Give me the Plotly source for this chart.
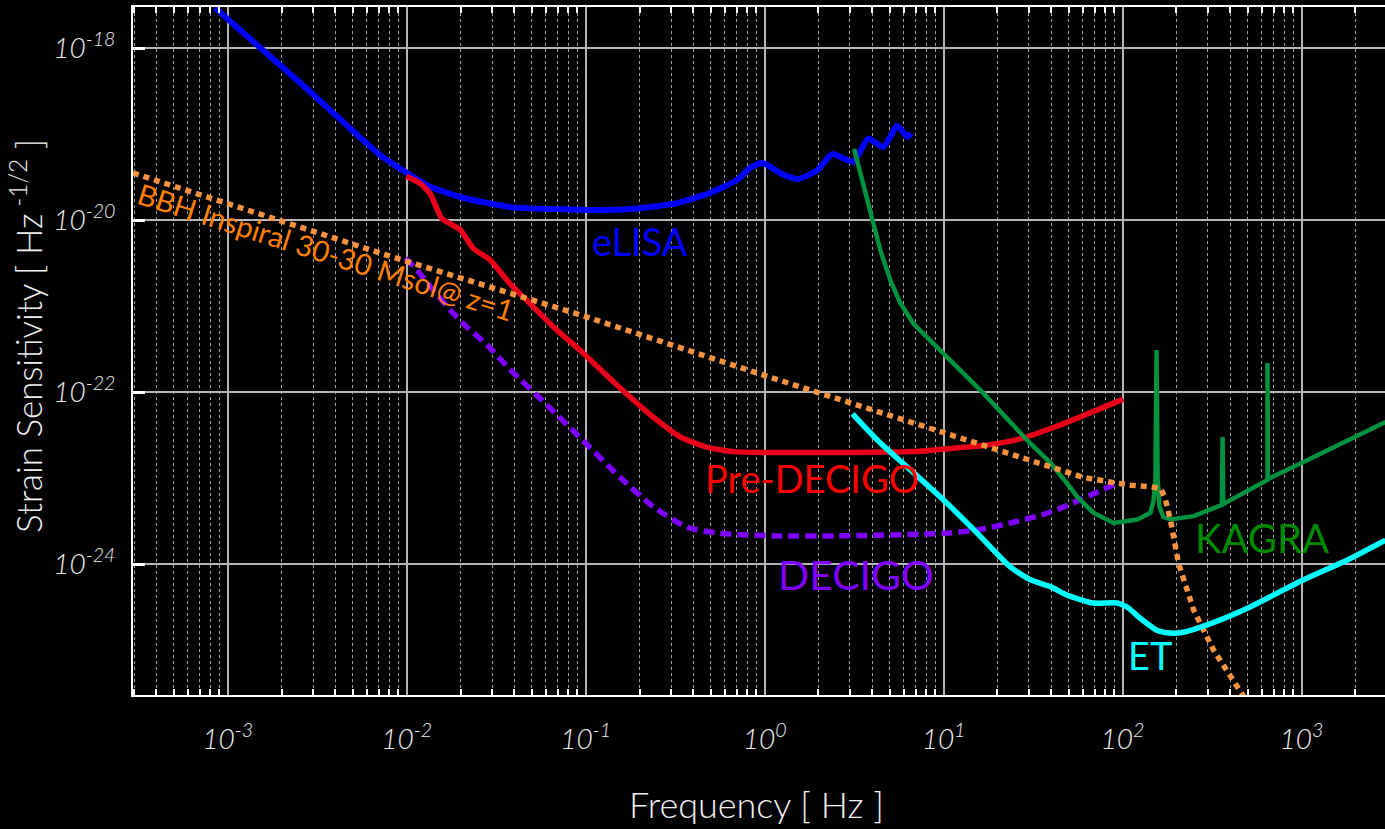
import numpy as np
import plotly.graph_objects as go

# ---- data (log10 of frequency [Hz] and log10 of strain sensitivity) ----
elisa_logf = [-3.071, -2.595, -2.149, -1.998, -1.869, -1.662, -1.405, -0.991, -0.75, -0.488,
              -0.303, -0.153, -0.08, -0.013, 0.104, 0.188, 0.294, 0.378, 0.495, 0.579,
              0.663, 0.741, 0.797, 0.820]
elisa_logh = [-17.53, -18.40, -19.24, -19.45, -19.61, -19.75, -19.85, -19.88, -19.87, -19.80,
              -19.68, -19.53, -19.39, -19.33, -19.47, -19.52, -19.42, -19.23, -19.32, -19.05,
              -19.15, -18.90, -19.03, -18.99]

predecigo_logf = [-2.002, -1.925, -1.869, -1.832, -1.804, -1.70, -1.627, -1.534, -1.422, -1.329,
                  -1.18, -1.031, -0.991, -0.807, -0.622, -0.471, -0.32, -0.175, -0.007, 0.46,
                  0.83, 1.0, 1.222, 1.412, 1.652, 2.004]
predecigo_logh = [-19.487, -19.57, -19.69, -19.86, -19.98, -20.11, -20.33, -20.46, -20.74, -20.93,
                  -21.24, -21.51, -21.59, -21.95, -22.29, -22.52, -22.64, -22.69, -22.70, -22.70,
                  -22.69, -22.66, -22.62, -22.55, -22.38, -22.08]

decigo_logf = [-2.007, -1.942, -1.852, -1.758, -1.664, -1.55, -1.42, -1.215, -1.03, -0.807,
               -0.622, -0.432, -0.248, 0.087, 0.405, 1.0, 1.189, 1.373, 1.558, 1.652, 1.977]
decigo_logh = [-20.44, -20.58, -20.81, -21.04, -21.24, -21.45, -21.74, -22.15, -22.53, -22.99,
               -23.33, -23.57, -23.64, -23.67, -23.67, -23.64, -23.60, -23.52, -23.42, -23.35,
               -23.05]

kagra_logf = [0.50, 0.552, 0.602, 0.647, 0.703, 0.758, 0.831, 0.999, 1.222, 1.468,
              1.597, 1.709, 1.748, 1.837, 1.949, 2.083, 2.156, 2.174, 2.184, 2.19,
              2.196, 2.206, 2.229, 2.268, 2.397, 2.531, 2.555, 2.559, 2.563, 2.81,
              2.81, 2.812, 3.011, 3.47]
kagra_logh = [-19.17, -19.57, -20.00, -20.35, -20.70, -20.96, -21.20, -21.55, -22.01, -22.56,
              -22.82, -23.11, -23.22, -23.40, -23.52, -23.48, -23.40, -23.25, -23.00, -21.51,
              -23.00, -23.33, -23.45, -23.48, -23.44, -23.33, -23.31, -22.52, -23.30, -23.02,
              -21.66, -23.01, -22.81, -22.345]

et_logf = [0.491, 0.647, 0.797, 0.999, 1.189, 1.373, 1.485, 1.597, 1.692, 1.837,
           1.971, 2.027, 2.10, 2.195, 2.268, 2.34, 2.452, 2.698, 3.011, 3.257, 3.469]
et_logh = [-22.25, -22.59, -22.87, -23.25, -23.64, -24.03, -24.18, -24.26, -24.36, -24.45,
           -24.45, -24.50, -24.63, -24.77, -24.80, -24.79, -24.72, -24.51, -24.18, -23.95,
           -23.72]

bbh_logf = [-3.529, -2.149, -1.03, -0.007, 1.077, 1.613, 1.782, 1.921, 2.044, 2.156,
            2.215, 2.24, 2.268, 2.313, 2.397, 2.509, 2.69]
bbh_logh = [-19.45, -20.38, -21.10, -21.80, -22.52, -22.88, -22.99, -23.04, -23.08, -23.10,
            -23.12, -23.25, -23.49, -23.99, -24.53, -25.00, -25.58]

x_tick_exp = [-3, -2, -1, 0, 1, 2, 3]
y_tick_exp = [-24, -22, -20, -18]


def pw(a):
    return np.power(10.0, np.array(a, dtype=float))


fig = go.Figure()

def add_curve(lf, lh, color, width, dash='solid', shape='spline', smoothing=0.6):
    line = dict(color=color, width=width, dash=dash, shape=shape)
    if shape == 'spline':
        line['smoothing'] = smoothing
    fig.add_trace(go.Scatter(x=pw(lf), y=pw(lh), mode='lines', line=line, hoverinfo='skip'))

add_curve(elisa_logf, elisa_logh, '#0000ff', 6, smoothing=0.5)
add_curve(predecigo_logf, predecigo_logh, '#e8001a', 5.5, smoothing=0.5)
add_curve(decigo_logf, decigo_logh, '#7f00ff', 5.5, dash='11px,6px', smoothing=0.6)
add_curve(kagra_logf, kagra_logh, '#00923f', 4.5, shape='linear')
add_curve(bbh_logf, bbh_logh, '#f5923e', 5.5, dash='6px,5px', shape='linear')
add_curve(et_logf, et_logh, '#00ffff', 5.5, smoothing=0.6)

label_font = 'Lato, Gill Sans, sans-serif'
def label(text, lx, ly, color, size, angle=0):
    fig.add_annotation(x=lx, y=ly, xref='x', yref='y', text=text, showarrow=False,
                       font=dict(family=label_font, size=size, color=color),
                       textangle=angle, xanchor='center', yanchor='middle')

label('eLISA', -0.696, -20.24, '#0000ff', 38)
label('Pre-DECIGO', 0.265, -23.0, '#ff0000', 38)
label('DECIGO', 0.511, -24.12, '#7f00ff', 41)
label('KAGRA', 2.779, -23.69, '#008a00', 40)
label('ET', 2.154, -25.05, '#00ffff', 38)
label('BBH Inspiral 30-30 Msol@ z=1', -2.45, -20.36, '#ff8000', 29, angle=17.6)

# axis titles
fig.add_annotation(x=0.4984, y=-0.158, xref='paper', yref='paper', text='Frequency [ Hz ]',
                   showarrow=False, xanchor='center', yanchor='middle',
                   font=dict(family=label_font, size=36, color='#f0f0f0', weight=300))
fig.add_annotation(x=-0.0855, y=0.5218, xref='paper', yref='paper',
                   text='Strain Sensitivity [ Hz<sup> -1/2</sup> ]', textangle=-90,
                   showarrow=False, xanchor='center', yanchor='middle',
                   font=dict(family=label_font, size=35, color='#f0f0f0', weight=300))

minor_x = [m * 10.0 ** e for e in range(-4, 4) for m in range(2, 10)]
minor_x = [v for v in minor_x if 10 ** -3.529 < v < 10 ** 3.4665]

tickfont = dict(family=label_font, size=28, color='#f0f0f0', style='italic', weight=300)

fig.update_xaxes(type='log', range=[-3.529, 3.4665],
                 tickvals=[10.0 ** e for e in x_tick_exp],
                 ticktext=['10<sup>%d</sup>' % e for e in x_tick_exp],
                 showgrid=True, gridcolor='#b4b4b4', gridwidth=1.5,
                 ticks='inside', ticklen=6, tickwidth=2, tickcolor='#b4b4b4',
                 showline=True, linecolor='white', linewidth=2, mirror='ticks',
                 tickfont=tickfont, ticklabelstandoff=18, zeroline=False,
                 minor=dict(tickvals=minor_x, ticks='inside', ticklen=6, tickwidth=2,
                            tickcolor='white', showgrid=True, gridcolor='#a0a0a0',
                            gridwidth=1, griddash='dot'))
fig.update_yaxes(type='log', range=[-25.52, -17.52],
                 tickvals=[10.0 ** e for e in y_tick_exp],
                 ticktext=['10<sup>%d</sup>' % e for e in y_tick_exp],
                 showgrid=True, gridcolor='#b4b4b4', gridwidth=1.5,
                 ticks='inside', ticklen=12, tickwidth=3, tickcolor='white',
                 showline=True, linecolor='white', linewidth=2,
                 tickfont=tickfont, ticklabelstandoff=10, zeroline=False)

fig.update_layout(width=1385, height=829, margin=dict(l=133, r=0, t=7, b=134),
                  paper_bgcolor='black', plot_bgcolor='black', showlegend=False)

fig.write_html('out.html')
